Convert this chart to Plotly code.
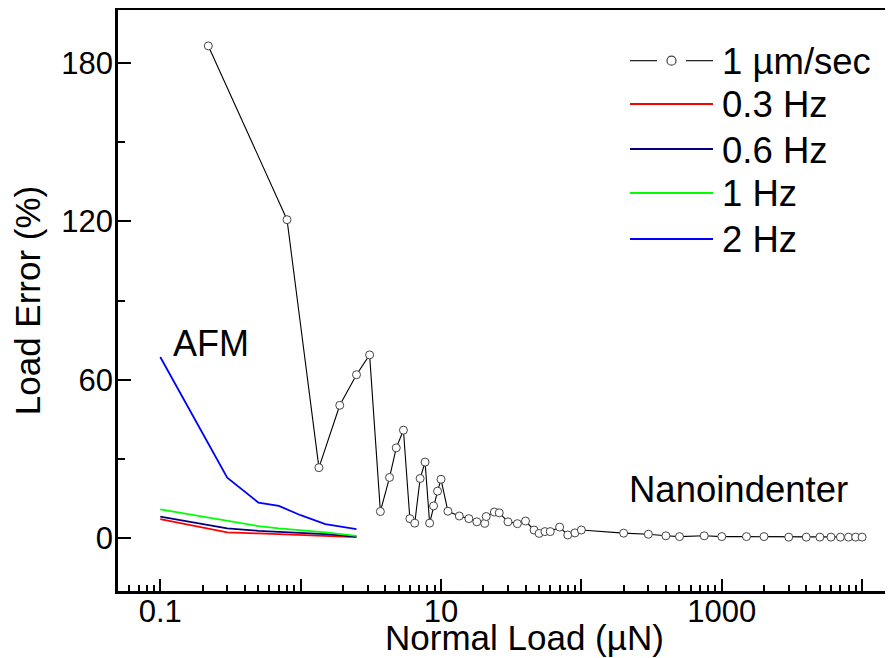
import numpy as np
import plotly.graph_objects as go

# ---------------- data ----------------
# Nanoindenter, 1 um/sec
nano_load = [0.22, 0.8, 1.35, 1.9, 2.5, 3.1, 3.7, 4.3, 4.8, 5.4, 6.0, 6.5, 7.1, 7.7,
             8.3, 8.85, 9.45, 10, 11.2, 13.5, 15.8, 18, 20.5, 21, 24, 26, 30, 35,
             40, 46, 50, 55, 60, 70, 80, 90, 100, 200, 300, 400, 500, 750, 1000,
             1500, 2000, 3000, 4000, 5000, 6000, 7000, 8000, 9000, 10000]
nano_err = [186.4, 120.6, 26.7, 50.3, 61.9, 69.4, 10.1, 23.0, 34.2, 40.9, 7.4, 5.7,
            22.6, 28.8, 5.7, 12.2, 17.8, 22.3, 10.2, 8.4, 7.4, 6.2, 5.6, 8.2, 9.9,
            9.6, 6.2, 5.5, 6.5, 3.1, 1.8, 2.5, 2.5, 4.2, 1.2, 2.0, 3.1, 1.9, 1.5,
            0.9, 0.6, 0.9, 0.6, 0.6, 0.6, 0.4, 0.4, 0.4, 0.4, 0.4, 0.4, 0.4, 0.4]

# AFM
afm_load = [0.1, 0.3, 0.5, 0.7, 1.0, 1.5, 2.5]
afm_03hz = [7.2, 2.2, 1.8, 1.5, 1.1, 0.6, 0.4]
afm_06hz = [8.2, 3.7, 2.8, 2.4, 2.0, 1.5, 0.6]
afm_1hz = [10.9, 6.5, 4.6, 3.7, 3.0, 2.2, 0.9]
afm_2hz = [68.6, 22.9, 13.5, 12.2, 8.7, 5.3, 3.4]

series_names = ["1 µm/sec", "0.3 Hz", "0.6 Hz", "1 Hz", "2 Hz"]
series_colors = ["#000000", "#ff0000", "#000080", "#00ff00", "#0000ff"]

x_major = [0.1, 1, 10, 100, 1000, 10000]
x_major_text = ["0.1", "", "10", "", "1000", ""]
y_major = [0, 60, 120, 180]
y_minor = [30, 90, 150]

FONT = "Liberation Sans, Arial, sans-serif"

fig = go.Figure()

afm_sets = [afm_03hz, afm_06hz, afm_1hz, afm_2hz]
for name, color, vals in zip(series_names[1:], series_colors[1:], afm_sets):
    fig.add_trace(go.Scatter(x=afm_load, y=vals, mode="lines", name=name,
                             line=dict(color=color, width=1.8), showlegend=False))

fig.add_trace(go.Scatter(x=nano_load, y=nano_err, mode="lines+markers",
                         name=series_names[0],
                         line=dict(color="#000000", width=1.1),
                         marker=dict(symbol="circle", size=8, color="white",
                                     line=dict(color="#444444", width=1)),
                         showlegend=False))

# minor ticks for log axis
x_minor = []
for d in [0.01, 0.1, 1, 10, 100, 1000, 10000]:
    for k in range(2, 10):
        x_minor.append(d * k)

# ---------- layout geometry (page has an 8px body margin) ----------
OFF = 8
W, H = 893, 658
# desired plot area in screen pixels: x 118..893, y 10..591
L, T = 118 - OFF, 10 - OFF
R = W - (893 - OFF)
B = H - (591 - OFF)
pw, ph = W - L - R, H - T - B


def px(xs):
    return (xs - OFF - L) / pw


def py(ys):
    return (H - B - (ys - OFF)) / ph


shapes = []
annotations = []
row_y = [60.7, 104, 149, 193, 239]
for i, (name, color) in enumerate(zip(series_names, series_colors)):
    yy = py(row_y[i])
    if i == 0:
        shapes.append(dict(type="line", xref="paper", yref="paper", x0=px(630), x1=px(657),
                           y0=yy, y1=yy, line=dict(color="#000000", width=1.1)))
        shapes.append(dict(type="line", xref="paper", yref="paper", x0=px(686), x1=px(713),
                           y0=yy, y1=yy, line=dict(color="#000000", width=1.1)))
        shapes.append(dict(type="circle", xref="paper", yref="paper",
                           xsizemode="pixel", ysizemode="pixel",
                           xanchor=px(671.5), yanchor=yy, x0=-4.5, x1=4.5, y0=-4.5, y1=4.5,
                           line=dict(color="#444444", width=1.2), fillcolor="white"))
    else:
        shapes.append(dict(type="line", xref="paper", yref="paper", x0=px(630), x1=px(713),
                           y0=yy, y1=yy, line=dict(color=color, width=1.8)))
    annotations.append(dict(text=name, xref="paper", yref="paper", x=px(720), y=py(row_y[i] + 1),
                            xanchor="left", yanchor="middle", showarrow=False,
                            font=dict(family=FONT, size=36.5, color="black")))

annotations.append(dict(text="AFM", xref="paper", yref="paper", x=px(171), y=py(343),
                        xanchor="left", yanchor="middle", showarrow=False,
                        font=dict(family=FONT, size=36, color="black")))
annotations.append(dict(text="Nanoindenter", xref="paper", yref="paper", x=px(627), y=py(489),
                        xanchor="left", yanchor="middle", showarrow=False,
                        font=dict(family=FONT, size=36.5, color="black")))
annotations.append(dict(text="Normal Load (µN)", xref="paper", yref="paper", x=px(524), y=py(637),
                        xanchor="center", yanchor="middle", showarrow=False,
                        font=dict(family=FONT, size=35, color="black")))

fig.update_layout(
    width=W, height=H,
    margin=dict(l=L, r=R, t=T, b=B, pad=0, autoexpand=False),
    paper_bgcolor="white", plot_bgcolor="white",
    font=dict(family=FONT, color="black"),
    showlegend=False,
    shapes=shapes,
    annotations=annotations,
    xaxis=dict(type="log", range=[np.log10(0.05), 4.22], automargin=False,
               showline=True, linewidth=2.5, linecolor="black", mirror=True,
               showgrid=False, zeroline=False,
               tickmode="array", tickvals=x_major, ticktext=x_major_text,
               ticks="inside", ticklen=12, tickwidth=2, tickcolor="black",
               ticklabelstandoff=-9,
               tickfont=dict(family=FONT, size=31, color="black"),
               minor=dict(tickmode="array", tickvals=x_minor, ticks="inside",
                          ticklen=6, tickwidth=1.5, tickcolor="black", showgrid=False)),
    yaxis=dict(range=[-20, 200], automargin=False,
               showline=True, linewidth=2.5, linecolor="black", mirror=False,
               showgrid=False, zeroline=False,
               tickmode="array", tickvals=y_major,
               ticks="inside", ticklen=13, tickwidth=2, tickcolor="black",
               ticklabelstandoff=-4,
               tickfont=dict(family=FONT, size=31, color="black"),
               minor=dict(tickmode="array", tickvals=y_minor, ticks="inside",
                          ticklen=7, tickwidth=2, tickcolor="black", showgrid=False),
               title=dict(text="Load Error (%)", font=dict(family=FONT, size=35, color="black"),
                          standoff=16)),
)

fig.write_html("out.html")
